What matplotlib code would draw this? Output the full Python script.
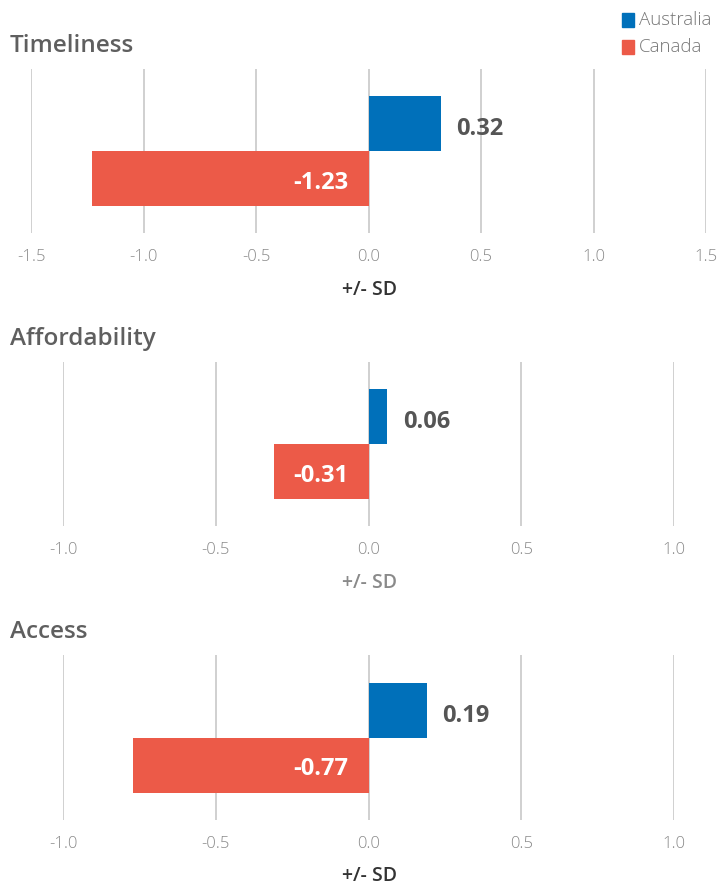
import matplotlib
matplotlib.use("Agg")
import matplotlib.pyplot as plt
from matplotlib.patches import Rectangle

plt.rcParams['font.family'] = ['Open Sans', 'DejaVu Sans']

# Data
panels = ["Timeliness", "Affordability", "Access"]
countries = ["Australia", "Canada"]
australia = [0.32, 0.06, 0.19]
canada = [-1.23, -0.31, -0.77]
tick_values = [
    [-1.5, -1.0, -0.5, 0.0, 0.5, 1.0, 1.5],
    [-1.0, -0.5, 0.0, 0.5, 1.0],
    [-1.0, -0.5, 0.0, 0.5, 1.0],
]
tick_labels = [
    ["-1.5", "-1.0", "-0.5", "0.0", "0.5", "1.0", "1.5"],
    ["-1.0", "-0.5", "0.0", "0.5", "1.0"],
    ["-1.0", "-0.5", "0.0", "0.5", "1.0"],
]
axis_label = "+/- SD"

BLUE = "#0070ba"
RED = "#ec5a48"
GRID = "#c4c4c4"
TITLE_C = "#5f5f5f"
TICK_C = "#8a8a8a"

W, H = 722, 886
fig = plt.figure(figsize=(W / 100, H / 100), dpi=100)

# pixel boxes: left, right, top, bottom
boxes = [(31, 706, 69, 233), (63, 674, 362, 526), (63, 674, 655, 820)]
title_y = [46, 339, 632]
xlabel_colors = ["#333333", "#8a8a8a", "#333333"]


def px(x, y):
    return x / W, 1 - y / H


for i, (l, r, t, b) in enumerate(boxes):
    ax = fig.add_axes([l / W, 1 - b / H, (r - l) / W, (b - t) / H])
    ticks = tick_values[i]
    ax.set_xlim(ticks[0], ticks[-1])
    ax.set_ylim(-1.5, 1.5)
    for s in ax.spines.values():
        s.set_visible(False)
    ax.set_yticks([])
    ax.set_xticks(ticks)
    ax.set_xticklabels(tick_labels[i])
    ax.tick_params(axis='x', length=0, pad=11.5, labelsize=12, labelcolor=TICK_C)
    for lab in ax.get_xticklabels():
        lab.set_fontweight('light')
    for v in ticks:
        ax.axvline(v, color=GRID, lw=1.1, zorder=1)

    a, c = australia[i], canada[i]
    ax.barh(0.5, a, height=1.0, color=BLUE, zorder=2)
    ax.barh(-0.5, c, height=1.0, color=RED, zorder=2)

    span = ticks[-1] - ticks[0]
    unit = span / (r - l)  # data units per pixel
    ax.text(a + 16 * unit, 0.4, f"{a:.2f}", ha='left', va='center',
            fontsize=17, fontweight='bold', color="#555555", zorder=3)
    ax.text(-20 * unit, -0.58, f"{c:.2f}", ha='right', va='center',
            fontsize=17, fontweight='bold', color="white", zorder=3)

    fig.text(*px(10, title_y[i]), panels[i], ha='left', va='center',
             fontsize=17.5, fontweight='semibold', color=TITLE_C)
    fig.text(*px(369, title_y[i] + 244), axis_label, ha='center', va='center',
             fontsize=14, fontweight='semibold', color=xlabel_colors[i])

# Legend
for j, (name, col) in enumerate(zip(countries, [BLUE, RED])):
    y = 20 + 27 * j
    fig.patches.append(Rectangle(px(622, y + 7), 12 / W, 14 / H,
                                 transform=fig.transFigure, color=col))
    fig.text(*px(639, y), name, ha='left', va='center', fontsize=13.5,
             fontweight='light', color="#777777")

fig.savefig("out.png", dpi=100)
